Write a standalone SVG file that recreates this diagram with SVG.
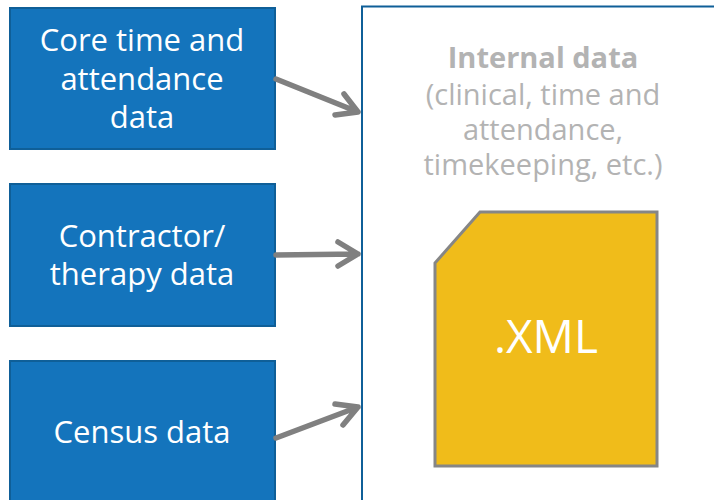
<svg xmlns="http://www.w3.org/2000/svg" width="714" height="500" viewBox="0 0 714 500">
<style>
text{font-family:"Open Sans","Noto Sans",sans-serif;text-anchor:middle}
.box{fill:#1474bc;stroke:#0f5f98;stroke-width:2}
.lbl{fill:#fff;font-size:31px}
.g{fill:#b3b3b3;font-size:29px}
.c{fill:none;stroke:#808080;stroke-width:5.5;stroke-linecap:round;stroke-linejoin:round}
</style>
<rect width="714" height="500" fill="#fff"/>
<g id="internal">
<rect x="362" y="6.500" width="400" height="520" fill="#fff" stroke="#0f5f98" stroke-width="2"/>
<text x="543" y="68" class="g" style="font-weight:700">Internal data</text>
<text x="543" y="105" class="g">(clinical, time and</text>
<text x="543" y="140" class="g">attendance,</text>
<text x="543" y="175" class="g">timekeeping, etc.)</text>
</g>
<g id="core">
<rect x="10" y="8" width="265" height="141" class="box"/>
<text x="142" y="51" class="lbl">Core time and</text>
<text x="142" y="90" class="lbl">attendance</text>
<text x="142" y="128" class="lbl">data</text>
</g>
<g id="contractor">
<rect x="10" y="184" width="265" height="142" class="box"/>
<text x="142" y="247" class="lbl">Contractor/</text>
<text x="142" y="285" class="lbl">therapy data</text>
</g>
<g id="census">
<rect x="10" y="361" width="265" height="160" class="box"/>
<text x="142" y="443" class="lbl">Census data</text>
</g>
<g id="xml">
<path d="M435 263 L480 212 H657 V466 H435 Z" fill="#f0bc1a" stroke="#868686" stroke-width="3"/>
<text x="546" y="353" style="font-size:46px;fill:#fff">.XML</text>
</g>
<g id="connectors">
<path d="M276 79 L358 112 M344 94 L358 112 L335 115" class="c"/>
<path d="M276 255 L358 254 M338 242 L358 254 L338 266" class="c"/>
<path d="M276 438 L358 407 M335 404 L358 407 L343 425" class="c"/>
</g>
</svg>
